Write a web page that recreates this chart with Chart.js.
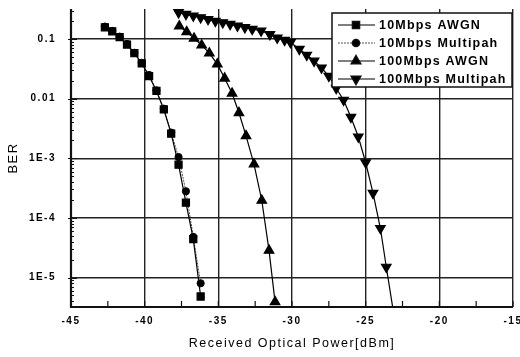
<!DOCTYPE html>
<html>
<head>
<meta charset="utf-8">
<title>BER vs Received Optical Power</title>
<script src="https://cdn.jsdelivr.net/npm/chart.js@4.4.1/dist/chart.umd.min.js"></script>
<style>
  html, body { margin: 0; padding: 0; background: #fff; }
</style>
</head>
<body>
<canvas id="berChart" width="520" height="357"></canvas>
<script>
// ---- data ----
const power10Awgn = [-42.7, -42.2, -41.7, -41.2, -40.7, -40.2, -39.7, -39.2, -38.7, -38.2, -37.7, -37.2, -36.7, -36.2];
const ber10Awgn   = [0.158, 0.135, 0.108, 0.081, 0.058, 0.039, 0.024, 0.0135, 0.0066, 0.0026, 7.8e-4, 1.8e-4, 4.4e-5, 4.8e-6];

const power10Multi = [-42.7, -42.2, -41.7, -41.2, -40.7, -40.2, -39.7, -39.2, -38.7, -38.2, -37.7, -37.2, -36.7, -36.2];
const ber10Multi   = [0.162, 0.137, 0.11, 0.083, 0.059, 0.04, 0.025, 0.0138, 0.0068, 0.0027, 1.05e-3, 2.8e-4, 4.8e-5, 8.0e-6];

const power100Awgn = [-37.65, -37.15, -36.65, -36.13, -35.61, -35.07, -34.57, -34.07, -33.6, -33.12, -32.58, -32.05, -31.56, -31.15];
const ber100Awgn   = [0.165, 0.132, 0.103, 0.079, 0.058, 0.038, 0.022, 0.0123, 0.0058, 0.00238, 8.0e-4, 1.96e-4, 2.85e-5, 3.9e-6];

const power100Multi = [-37.7, -37.2, -36.7, -36.2, -35.7, -35.2, -34.7, -34.2, -33.7, -33.2, -32.7, -32.1,
                       -31.5, -31.0, -30.5, -30.1, -29.5, -29.0, -28.5, -28.0, -27.5, -27.0, -26.5, -26.0,
                       -25.5, -25.0, -24.5, -24.0, -23.6, -23.1];
const ber100Multi   = [0.28, 0.262, 0.246, 0.23, 0.215, 0.2, 0.19, 0.178, 0.167, 0.157, 0.147, 0.138,
                       0.12, 0.105, 0.096, 0.088, 0.068, 0.054, 0.043, 0.033, 0.024, 0.015, 0.0095, 0.0049,
                       0.0023, 8.5e-4, 2.6e-4, 6.7e-5, 1.5e-5, 2.5e-6];

const seriesNames = ['10Mbps AWGN', '10Mbps Multipah', '100Mbps AWGN', '100Mbps Multipah'];
const berTicks = [0.1, 0.01, 1e-3, 1e-4, 1e-5];
const berTickLabels = ['0.1', '0.01', '1E-3', '1E-4', '1E-5'];

function pairs(xs, ys) {
	return xs.map((x, i) => ({ x: x, y: ys[i] }));
}

const FONT = "'Liberation Sans', Arial, sans-serif";

// letter spacing like the scanned figure
const spacingPlugin = {
	id: 'spacing',
	beforeLayout(chart) { chart.ctx.letterSpacing = '1.5px'; },
	beforeDraw(chart) { chart.ctx.letterSpacing = '1.5px'; }
};

// keep the plot box where the original has it
function noEdgePadding(scale) {
	scale.paddingTop = 0;
	scale.paddingBottom = 0;
	scale.paddingLeft = 0;
	scale.paddingRight = 0;
}

// inward ticks, axis lines and the boxed legend
const framePlugin = {
	id: 'frame',
	afterDraw(chart) {
		const ctx = chart.ctx;
		const a = chart.chartArea;
		const x = chart.scales.x, y = chart.scales.y;
		ctx.save();
		ctx.strokeStyle = '#111';
		ctx.lineWidth = 1.2;
		ctx.beginPath();
		for (let d = -6; d <= 0; d++) {
			for (let m = 1; m < 10; m++) {
				const v = m * Math.pow(10, d);
				if (v < y.min || v > y.max) continue;
				const py = Math.round(y.getPixelForValue(v)) + 0.5;
				ctx.moveTo(a.left - (m === 1 ? 3 : 0), py);
				ctx.lineTo(a.left + (m === 1 ? 6 : 3), py);
			}
		}
		for (let v = -45; v <= -15; v += 2.5) {
			const px = x.getPixelForValue(v);
			ctx.moveTo(px, a.bottom);
			ctx.lineTo(px, a.bottom - 6);
		}
		ctx.stroke();
		ctx.lineWidth = 2.2;
		ctx.beginPath();
		ctx.moveTo(a.left, a.top);
		ctx.lineTo(a.left, a.bottom);
		ctx.lineTo(a.right, a.bottom);
		ctx.stroke();

		// legend
		const bx = 332, by = 13, bw = 180, bh = 74;
		ctx.fillStyle = '#fff';
		ctx.fillRect(bx, by, bw, bh);
		ctx.lineWidth = 1.5;
		ctx.strokeRect(bx, by, bw, bh);
		ctx.font = 'bold 12.5px ' + FONT;
		ctx.letterSpacing = '1.2px';
		ctx.textBaseline = 'middle';
		ctx.textAlign = 'left';
		chart.data.datasets.forEach((ds, i) => {
			const ly = by + 12 + i * 18;
			ctx.save();
			ctx.strokeStyle = ds.borderColor;
			ctx.lineWidth = ds.borderWidth;
			ctx.setLineDash(ds.borderDash || []);
			ctx.beginPath();
			ctx.moveTo(bx + 6, ly);
			ctx.lineTo(bx + 43, ly);
			ctx.stroke();
			ctx.restore();
			ctx.fillStyle = '#000';
			Chart.helpers.drawPoint(ctx, {
				pointStyle: ds.pointStyle,
				rotation: ds.pointRotation || 0,
				radius: ds.pointRadius,
				borderWidth: 1
			}, bx + 24, ly);
			ctx.fillStyle = '#000';
			ctx.fillText(ds.label, bx + 47, ly + 1);
		});
		ctx.restore();
	}
};

const ctx = document.getElementById('berChart').getContext('2d');
const chart = new Chart(ctx, {
	type: 'line',
	data: {
		datasets: [
			{
				label: seriesNames[0],
				data: pairs(power10Awgn, ber10Awgn),
				borderColor: '#000', backgroundColor: '#000', borderWidth: 1.2,
				pointStyle: 'rect', pointRadius: 5
			},
			{
				label: seriesNames[1],
				data: pairs(power10Multi, ber10Multi),
				borderColor: '#555', backgroundColor: '#000', borderWidth: 1,
				borderDash: [2, 1],
				pointBorderColor: '#000',
				pointStyle: 'circle', pointRadius: 3.6
			},
			{
				label: seriesNames[2],
				data: pairs(power100Awgn, ber100Awgn),
				borderColor: '#000', backgroundColor: '#000', borderWidth: 1.2,
				pointStyle: 'triangle', pointRadius: 5.5
			},
			{
				label: seriesNames[3],
				data: pairs(power100Multi, ber100Multi),
				borderColor: '#000', backgroundColor: '#000', borderWidth: 1.2,
				pointStyle: 'triangle', pointRotation: 180, pointRadius: 5.5
			}
		]
	},
	options: {
		responsive: false,
		animation: false,
		events: [],
		layout: { padding: { top: 9, right: 7, left: 0, bottom: 0 } },
		plugins: {
			legend: { display: false },
			tooltip: { enabled: false }
		},
		elements: { line: { tension: 0 } },
		scales: {
			x: {
				type: 'linear',
				min: -45, max: -15,
				afterFit(scale) { scale.height = 50; noEdgePadding(scale); },
				ticks: { stepSize: 5, color: '#000', padding: 8, font: { family: FONT, size: 10, weight: 'bold' } },
				grid: { color: '#222', lineWidth: 1.4, drawTicks: false },
				border: { display: false },
				title: {
					display: true, text: 'Received Optical Power[dBm]', color: '#000',
					font: { family: FONT, size: 12.5 }, padding: { top: 0, bottom: 6 }
				}
			},
			y: {
				type: 'logarithmic',
				min: 3.2e-6, max: 0.32,
				afterFit(scale) { scale.width = 71; noEdgePadding(scale); },
				afterBuildTicks(scale) { scale.ticks = berTicks.map(v => ({ value: v })); },
				ticks: {
					color: '#000', padding: 15, font: { family: FONT, size: 10, weight: 'bold' },
					autoSkip: false,
					callback: (v) => {
						const i = berTicks.findIndex(t => Math.abs(t - v) / t < 1e-6);
						return i >= 0 ? berTickLabels[i] : '';
					}
				},
				grid: { color: '#222', lineWidth: 1.4, drawTicks: false },
				border: { display: false },
				title: {
					display: true, text: 'BER', color: '#000',
					font: { family: FONT, size: 13 }, padding: { top: 6, bottom: 0 }
				}
			}
		}
	},
	plugins: [spacingPlugin, framePlugin]
});
</script>
</body>
</html>
